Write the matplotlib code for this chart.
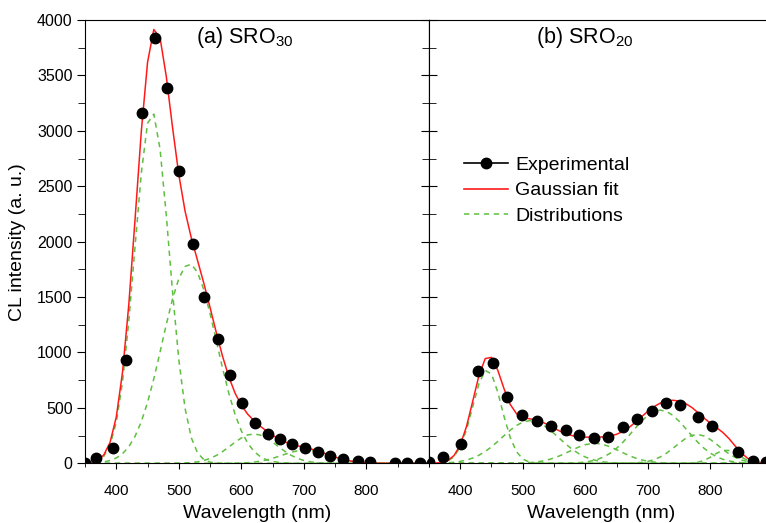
import numpy as np
import matplotlib
matplotlib.use("Agg")
import matplotlib.pyplot as plt
from matplotlib.lines import Line2D
from matplotlib.ticker import MultipleLocator

plt.rcParams['font.family'] = ['Liberation Sans', 'DejaVu Sans']
plt.rcParams['mathtext.default'] = 'regular'

# (a) SRO30 - experimental points
wl_a = [350, 368, 395, 415, 441, 462, 481, 501, 522, 541, 563, 582, 601, 622,
        642, 661, 681, 702, 722, 742, 762, 787, 806, 845, 865, 885, 905]
cl_a = [5, 45, 140, 929, 3164, 3838, 3389, 2640, 1982, 1498, 1122, 797, 547, 361,
        264, 216, 174, 138, 105, 69, 36, 18, 12, 5, 5, 5, 5]
# (a) gaussian distributions: centre, height, width (nm)
cen_a = [457, 517, 620, 703]
amp_a = [3170, 1800, 265, 120]
wid_a = [27.5, 43.5, 37, 38]

# (b) SRO20 - experimental points
wl_b = [350, 372, 401, 429, 453, 475, 499, 523, 545, 569, 590, 614, 636, 660,
        683, 706, 729, 752, 780, 802, 844, 868, 889]
cl_b = [9, 54, 174, 830, 902, 598, 436, 384, 336, 300, 255, 231, 240, 325,
        397, 469, 547, 526, 418, 334, 105, 24, 9]
# (b) gaussian distributions
cen_b = [443, 512, 615, 720, 779, 825]
amp_b = [845, 385, 180, 480, 260, 120]
wid_b = [23, 45, 40, 44, 34, 20]

red = '#ff1a1a'
green = '#5fbf40'

fig = plt.figure(figsize=(7.66, 5.23), dpi=100)
ax1 = fig.add_axes([0.111, 0.1141, 0.449, 0.8477])
ax2 = fig.add_axes([0.560, 0.1141, 0.449, 0.8477])

x = np.arange(350, 910, 10)


def draw(ax, wl, cl, cen, amp, wid):
    total = np.zeros_like(x, dtype=float)
    for c, a, w in zip(cen, amp, wid):
        g = a * np.exp(-(x - c) ** 2 / (2 * w ** 2))
        total += g
        ax.plot(x, g, color=green, lw=1.1, ls=(0, (3.5, 3)), zorder=2)
    ax.plot(x, total, color=red, lw=1.1, zorder=3)
    ax.plot(wl, cl, 'o', color='black', ms=7.5, zorder=4)
    ax.set_xlim(350, 900)
    ax.set_ylim(0, 4000)
    ax.set_xticks([400, 500, 600, 700, 800])
    ax.xaxis.set_minor_locator(MultipleLocator(50))
    ax.yaxis.set_major_locator(MultipleLocator(500))
    ax.yaxis.set_minor_locator(MultipleLocator(250))
    ax.tick_params(axis='x', which='major', direction='out', length=4,
                   labelsize=11, pad=11)
    ax.tick_params(axis='x', which='minor', direction='out', length=3)
    ax.set_xlabel('Wavelength (nm)', fontsize=14, labelpad=5)


draw(ax1, wl_a, cl_a, cen_a, amp_a, wid_a)
draw(ax2, wl_b, cl_b, cen_b, amp_b, wid_b)

ax1.tick_params(axis='y', which='both', direction='out', labelsize=11.5,
                right=False, pad=3)
ax1.tick_params(axis='y', which='major', length=6)
ax1.tick_params(axis='y', which='minor', length=5)
ax1.set_ylabel('CL intensity (a. u.)', fontsize=14, labelpad=8)
ax2.tick_params(axis='y', which='both', direction='in', labelleft=False)
ax2.tick_params(axis='y', which='major', length=6)
ax2.tick_params(axis='y', which='minor', length=5)
ax2.spines['right'].set_visible(False)

# right ticks of panel (a) point inward
ax1r = ax1.secondary_yaxis('right')
ax1r.tick_params(axis='y', which='both', direction='in', labelright=False)
ax1r.yaxis.set_major_locator(MultipleLocator(500))
ax1r.yaxis.set_minor_locator(MultipleLocator(250))
ax1r.tick_params(which='major', length=6)
ax1r.tick_params(which='minor', length=5)

ax1.text(0.465, 0.988, '(a) SRO$_{30}$', transform=ax1.transAxes,
         ha='center', va='top', fontsize=15.5)
ax2.text(0.453, 0.988, '(b) SRO$_{20}$', transform=ax2.transAxes,
         ha='center', va='top', fontsize=15.5)

handles = [Line2D([], [], color='black', marker='o', ms=7.5, lw=1.2),
           Line2D([], [], color=red, lw=1.2),
           Line2D([], [], color=green, lw=1.1, ls=(0, (3.5, 3)))]
ax2.legend(handles, ['Experimental', 'Gaussian fit', 'Distributions'],
           loc='upper left', bbox_to_anchor=(0.079, 0.71), frameon=False,
           fontsize=14, handlelength=2.25, handletextpad=0.4,
           labelspacing=0.4, borderaxespad=0)

fig.savefig('out.png', dpi=100)
